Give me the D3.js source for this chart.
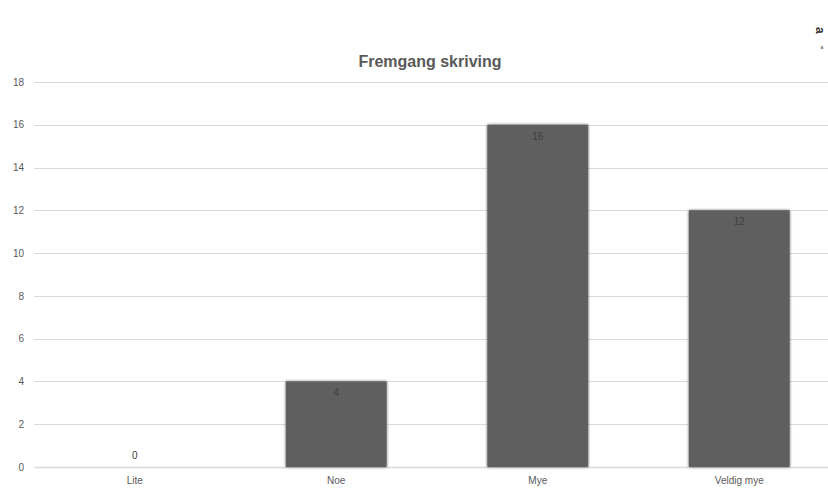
<!DOCTYPE html>
<html>
<head>
<meta charset="utf-8">
<script src="https://cdn.jsdelivr.net/npm/d3@7"></script>
<style>
  body { margin: 0; background: #fff; }
  text { font-family: "Liberation Sans", Arial, sans-serif; }
</style>
</head>
<body>
<svg width="828" height="489"></svg>
<script>
// chart data
let categories = ['Lite', 'Noe', 'Mye', 'Veldig mye'];
let values = [0, 4, 16, 12];
let yTicks = [0, 2, 4, 6, 8, 10, 12, 14, 16, 18];
let title = 'Fremgang skriving';

let svg = d3.select('svg');

let plot = {l: 34, r: 840, t: 82, b: 467};

let xScale = d3.scaleBand()
    .domain(categories)
    .range([plot.l, plot.r])
    .paddingInner(0.5)
    .paddingOuter(0.25);

let yScale = d3.scaleLinear()
    .domain([0, 18])
    .range([plot.b, plot.t]);

// soft edge on the bars
let defs = svg.append('defs');
let f = defs.append('filter').attr('id', 'soft')
    .attr('x', '-10%').attr('y', '-10%').attr('width', '120%').attr('height', '120%');
f.append('feGaussianBlur').attr('in', 'SourceGraphic').attr('stdDeviation', 1.5).attr('result', 'b');
f.append('feMerge').call(m => {
    m.append('feMergeNode').attr('in', 'b');
    m.append('feMergeNode').attr('in', 'SourceGraphic');
});

// gridlines
svg.append('g')
    .selectAll('line')
    .data(yTicks)
    .join('line')
    .attr('x1', plot.l)
    .attr('x2', plot.r)
    .attr('y1', d => Math.round(yScale(d)) + 0.5)
    .attr('y2', d => Math.round(yScale(d)) + 0.5)
    .attr('stroke', '#d9d9d9')
    .attr('stroke-width', d => d === 0 ? 1.5 : 1);

// y axis labels
let yAxis = d3.axisLeft(yScale).tickValues(yTicks).tickSize(0).tickPadding(10);
svg.append('g')
    .attr('transform', 'translate(' + [plot.l, 0] + ')')
    .call(yAxis)
    .call(g => g.select('.domain').remove())
    .call(g => g.selectAll('text')
        .attr('fill', '#595959')
        .style('font-size', '10px'));

// x axis labels
let xAxis = d3.axisBottom(xScale).tickSize(0).tickPadding(10);
svg.append('g')
    .attr('transform', 'translate(' + [0, plot.b] + ')')
    .call(xAxis)
    .call(g => g.select('.domain').remove())
    .call(g => g.selectAll('text')
        .attr('fill', '#595959')
        .style('font-size', '10px'));

// bars
svg.append('g')
    .selectAll('rect')
    .data(values)
    .join('rect')
    .attr('x', (d, i) => xScale(categories[i]))
    .attr('y', d => yScale(d))
    .attr('width', xScale.bandwidth())
    .attr('height', d => yScale(0) - yScale(d))
    .attr('fill', '#5f5f5f')
    .attr('filter', 'url(#soft)');

// data labels
svg.append('g')
    .selectAll('text')
    .data(values)
    .join('text')
    .attr('x', (d, i) => xScale(categories[i]) + xScale.bandwidth() / 2)
    .attr('y', d => d === 0 ? yScale(0) - 8 : yScale(d) + 15)
    .attr('text-anchor', 'middle')
    .attr('fill', '#404040')
    .style('font-size', '10px')
    .text(d => d);

// title
svg.append('text')
    .attr('x', 430)
    .attr('y', 67)
    .attr('text-anchor', 'middle')
    .attr('fill', '#595959')
    .style('font-size', '16px')
    .style('font-weight', 'bold')
    .text(title);

// small glyphs in the top right corner
svg.append('text')
    .attr('transform', 'translate(816,27) rotate(90)')
    .attr('fill', '#303030')
    .style('font-size', '12px')
    .style('font-weight', 'bold')
    .text('a');
svg.append('text')
    .attr('x', 822)
    .attr('y', 49)
    .attr('text-anchor', 'middle')
    .attr('fill', '#404040')
    .style('font-size', '5px')
    .text('a');
</script>
</body>
</html>
